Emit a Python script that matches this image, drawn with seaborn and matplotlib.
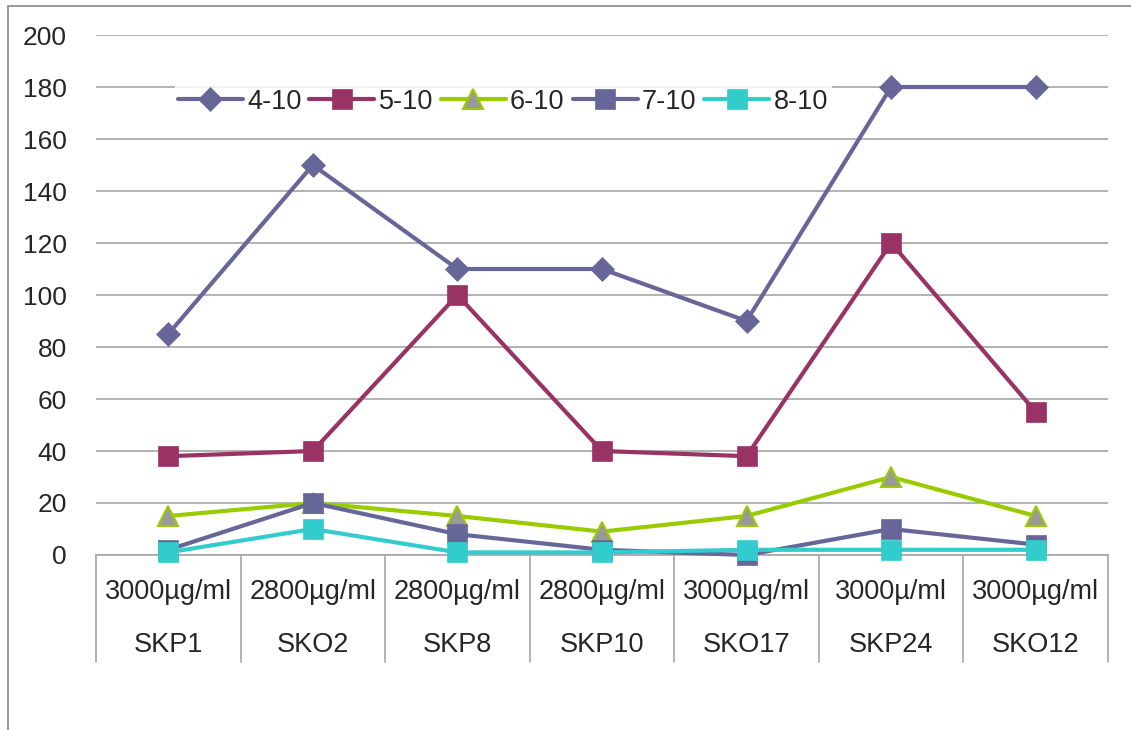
import numpy as np
import pandas as pd
import matplotlib
matplotlib.use("Agg")
import matplotlib.pyplot as plt
import seaborn as sns
from matplotlib.lines import Line2D

concentrations = ["3000µg/ml", "2800µg/ml", "2800µg/ml", "2800µg/ml", "3000µg/ml", "3000µ/ml", "3000µg/ml"]
strains = ["SKP1", "SKO2", "SKP8", "SKP10", "SKO17", "SKP24", "SKO12"]

s_4_10 = [85, 150, 110, 110, 90, 180, 180]
s_5_10 = [38, 40, 100, 40, 38, 120, 55]
s_6_10 = [15, 20, 15, 9, 15, 30, 15]
s_7_10 = [2, 20, 8, 2, 0, 10, 4]
s_8_10 = [1, 10, 1, 1, 2, 2, 2]

series_names = ["4-10", "5-10", "6-10", "7-10", "8-10"]
series_vals = [s_4_10, s_5_10, s_6_10, s_7_10, s_8_10]
yticks = [0, 20, 40, 60, 80, 100, 120, 140, 160, 180, 200]

styles = {
    "4-10": dict(color="#666699", marker="D", mfc="#666699", mec="#666699", ms=12),
    "5-10": dict(color="#993366", marker="s", mfc="#993366", mec="#993366", ms=14),
    "6-10": dict(color="#99CC00", marker="^", mfc="#999999", mec="#99CC00", ms=15),
    "7-10": dict(color="#666699", marker="s", mfc="#666699", mec="#666699", ms=14),
    "8-10": dict(color="#33CCCC", marker="s", mfc="#33CCCC", mec="#33CCCC", ms=14),
}

sns.set_style("white")
plt.rcParams["font.family"] = ["Liberation Sans", "DejaVu Sans"]

fig = plt.figure(figsize=(11.31, 7.30), dpi=100)
ax = fig.add_axes([96/1131, 1-555/730, (1108-96)/1131, (555-35)/730])

x = np.arange(len(strains))
handles = []
for name, vals in zip(series_names, series_vals):
    st = styles[name]
    df = pd.DataFrame({"x": x, "y": vals})
    sns.lineplot(data=df, x="x", y="y", ax=ax, color=st["color"], linewidth=3,
                 marker=st["marker"], markersize=st["ms"], markerfacecolor=st["mfc"],
                 markeredgecolor=st["mec"], markeredgewidth=1.5 if name == "6-10" else 0.5,
                 clip_on=False, zorder=3)
    handles.append(Line2D([0], [0], color=st["color"], linewidth=3, marker=st["marker"],
                          markersize=st["ms"], markerfacecolor=st["mfc"],
                          markeredgecolor=st["mec"],
                          markeredgewidth=1.5 if name == "6-10" else 0.5))

ax.set_xlim(-0.5, len(strains) - 0.5)
ax.set_ylim(0, 200)
ax.set_yticks(yticks)
ax.set_yticklabels([str(v) for v in yticks], fontsize=19)
ax.tick_params(axis="y", length=0, pad=21)
ax.set_xticks([])
ax.set_xlabel("")
ax.set_ylabel("")
for sp in ["top", "right", "left"]:
    ax.spines[sp].set_visible(False)
ax.spines["bottom"].set_color("#A6A6A6")
ax.spines["bottom"].set_linewidth(1.2)
ax.yaxis.grid(True, color="#A6A6A6", linewidth=1.2)
ax.set_axisbelow(True)

# category table
trans = ax.get_xaxis_transform()
for k in range(len(strains) + 1):
    ax.plot([k - 0.5, k - 0.5], [0, -0.206], transform=trans, color="#A6A6A6",
            linewidth=1.2, clip_on=False)
for i, (c, s) in enumerate(zip(concentrations, strains)):
    ax.text(i, -0.071, c, transform=trans, ha="center", va="center", fontsize=19.5)
    ax.text(i, -0.173, s, transform=trans, ha="center", va="center", fontsize=19.5)

leg = ax.legend(handles, series_names, loc="center", bbox_to_anchor=(0.402, 0.872),
                ncol=5, frameon=True, fontsize=19.5, handlelength=2.4, handletextpad=0.15,
                columnspacing=0.3, borderpad=0.1, fancybox=False)
leg.get_frame().set_facecolor("white")
leg.get_frame().set_edgecolor("white")
leg.set_zorder(5)

# chart border (top and left visible)
fig.add_artist(Line2D([8/1131, 8/1131], [0, 1-6/730], color="#888888", linewidth=1.2))
fig.add_artist(Line2D([8/1131, 1], [1-6/730, 1-6/730], color="#888888", linewidth=1.2))

fig.savefig("out.png", dpi=100)
